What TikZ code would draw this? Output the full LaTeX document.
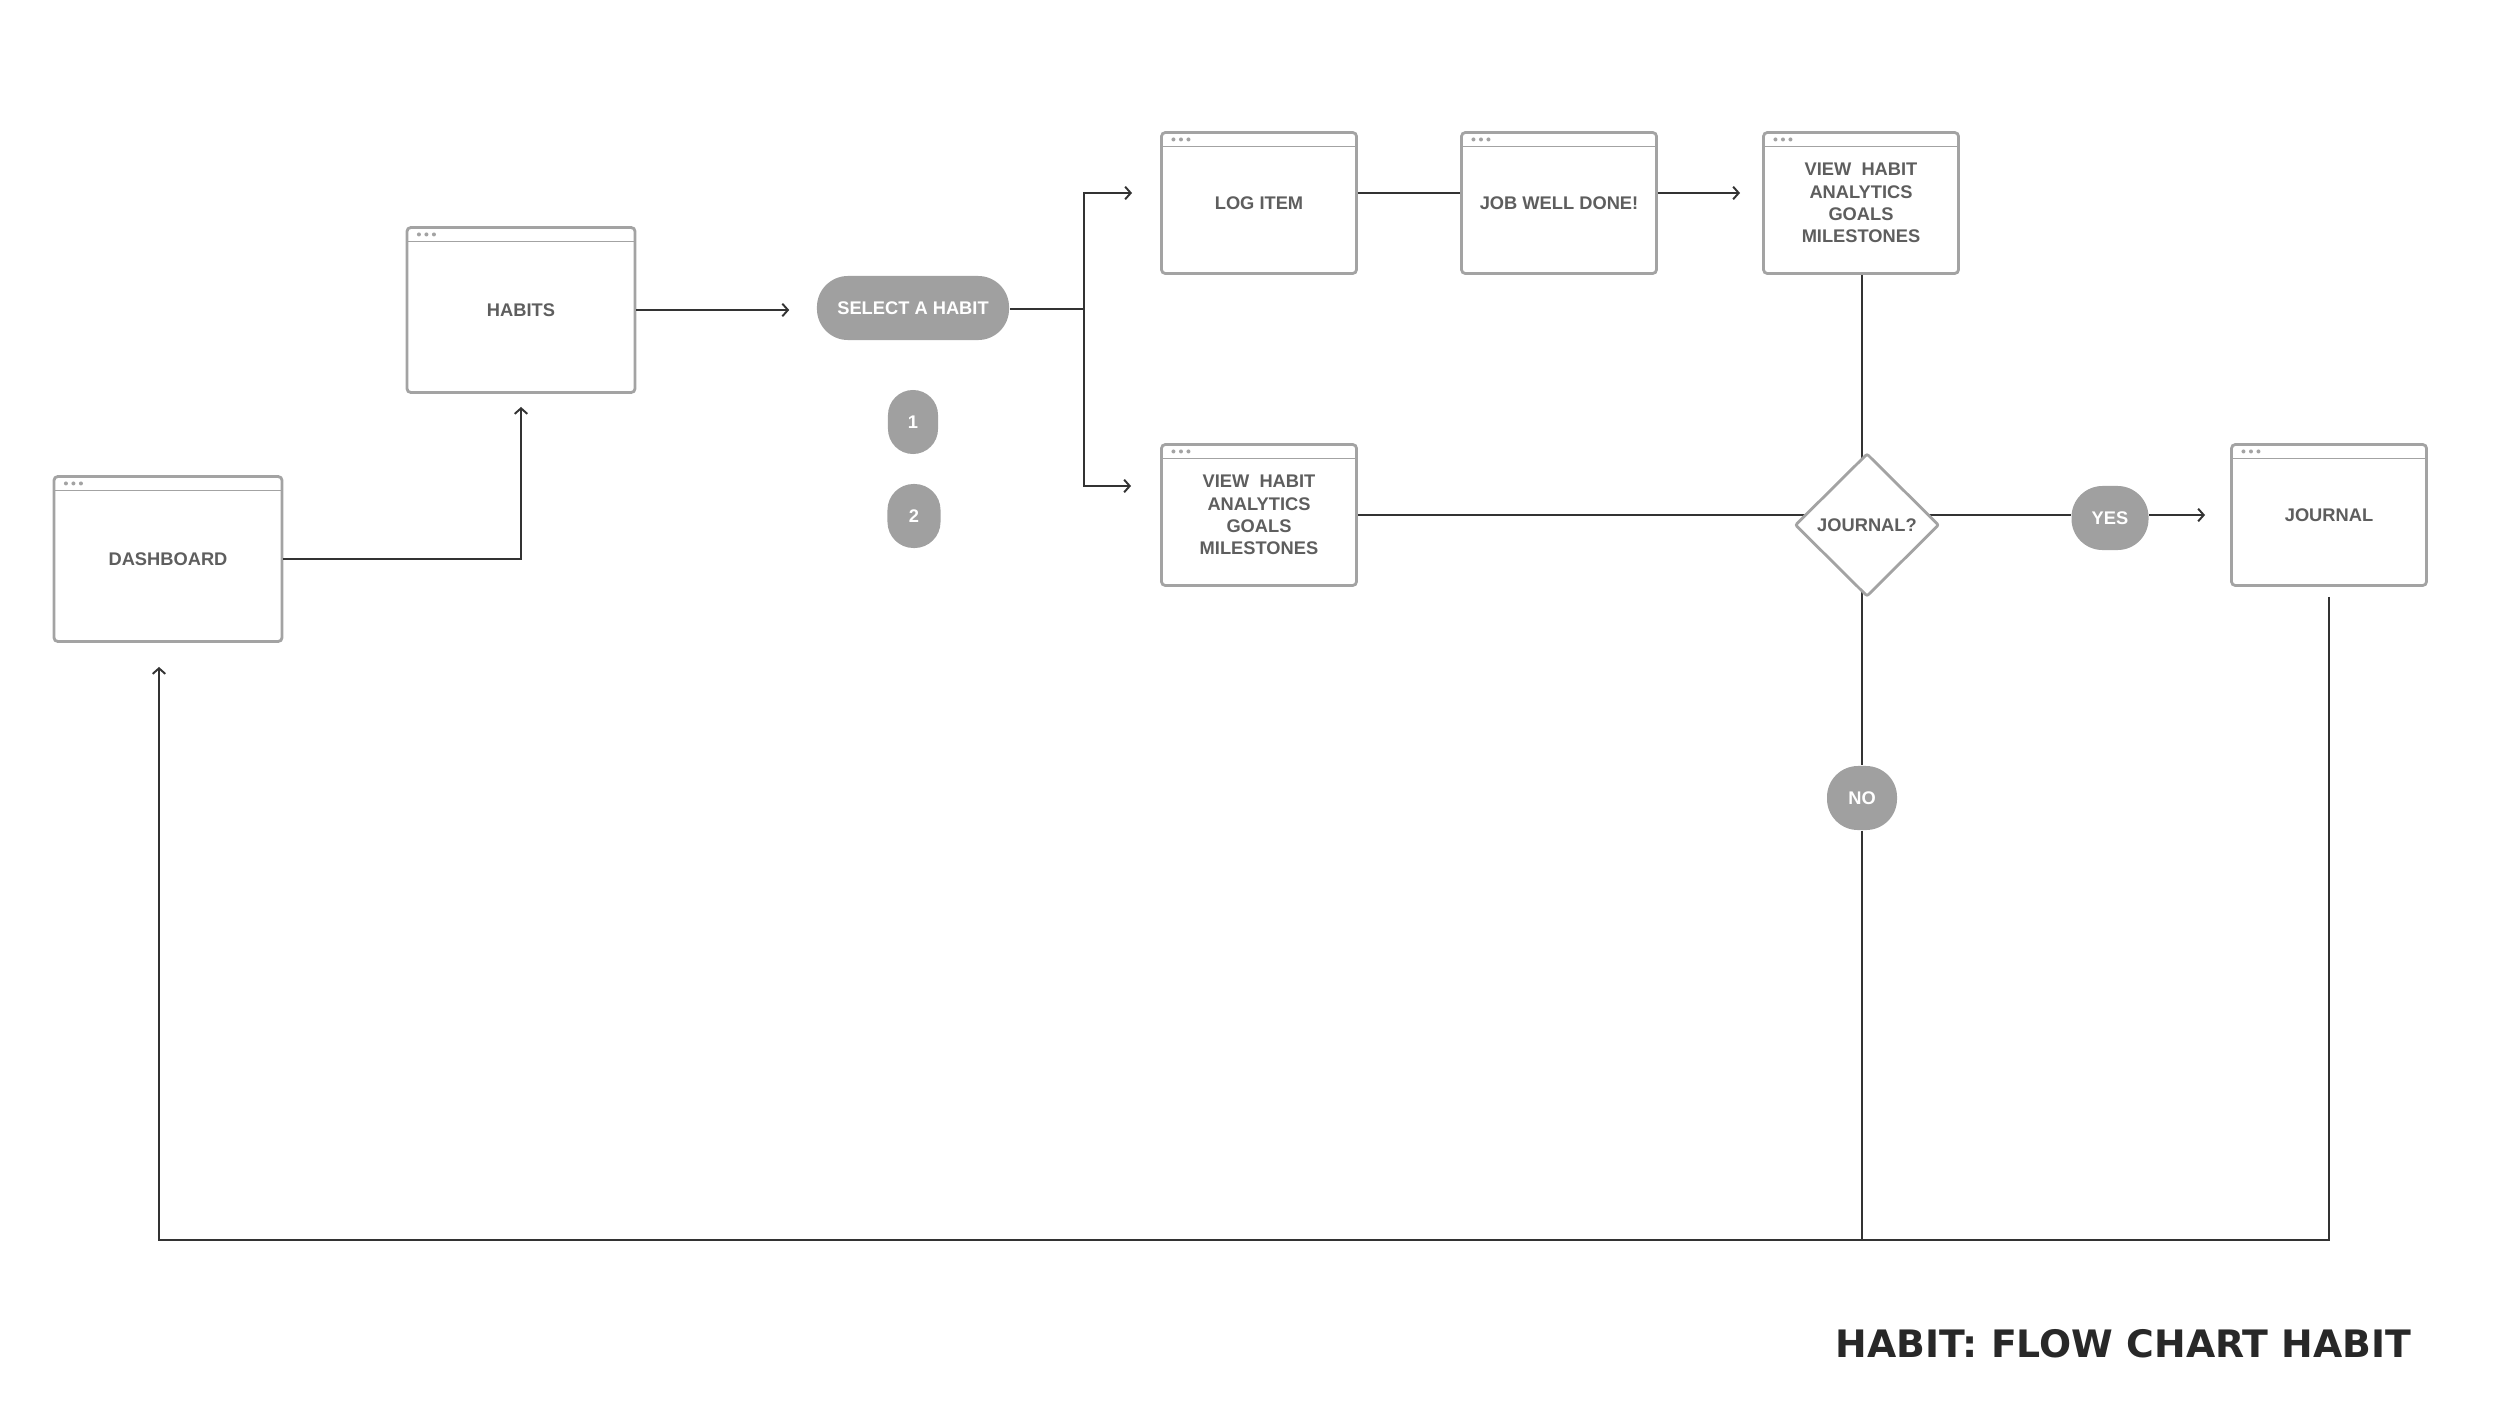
\documentclass[tikz,border=0pt]{standalone}
\usepackage{fontspec}
\setmainfont{Liberation Sans}
\newfontfamily\titlefont{DejaVu Sans}
\usetikzlibrary{arrows.meta,positioning,shapes.geometric,backgrounds}
\definecolor{framegray}{HTML}{A3A3A3}
\definecolor{labelgray}{HTML}{5E5E5E}
\definecolor{pillgray}{HTML}{A0A0A0}
\definecolor{linedark}{HTML}{333333}
\definecolor{titleblack}{HTML}{282828}

\begin{document}
\begin{tikzpicture}[x=0.01cm,y=-0.01cm,
        screen/.style={draw=framegray,line width=0.8pt,rounded corners=0.04cm,fill=white,
                    minimum width=1.95cm,minimum height=1.41cm,inner sep=0pt,align=center,
                    text=labelgray,font=\fontsize{5.2}{6.35}\selectfont\bfseries,
                    path picture={
                      \draw[framegray,line width=0.45pt]
                        ([yshift=-0.14cm]path picture bounding box.north west) --
                        ([yshift=-0.14cm]path picture bounding box.north east);
                      \foreach \dx in {0.12,0.195,0.27}
                        \fill[framegray] ([xshift=\dx cm,yshift=-0.07cm]path picture bounding box.north west)
                          circle[radius=0.02cm];}},
        widescreen/.style={screen,minimum width=2.28cm,minimum height=1.65cm},
        pill/.style={fill=pillgray,text=white,rounded corners=0.31cm,minimum height=0.64cm,
                    inner sep=0pt,font=\fontsize{5.2}{6.35}\selectfont\bfseries},
        decision/.style={diamond,draw=framegray,line width=0.8pt,fill=white,rounded corners=0.02cm,
                    minimum width=1.44cm,minimum height=1.43cm,inner sep=0pt,
                    text=labelgray,font=\fontsize{5.2}{6.35}\selectfont\bfseries},
        link/.style={linedark,line width=0.55pt},
        arr/.style={link,-{Straight Barb[length=1.6pt,width=3.6pt]}}]
        \useasboundingbox (0,0) rectangle (2500,1403);
        % screens
        \node[widescreen] (dash) at (168,559) {DASHBOARD};
        \node[widescreen] (habits) at (521,310) {HABITS};
        \node[screen] (log) at (1259,203) {LOG ITEM};
        \node[screen] (job) at (1559,203) {JOB WELL DONE!};
        \node[screen] (stats) at (1861,203) {VIEW\ \ HABIT\\ANALYTICS\\GOALS\\MILESTONES};
        \node[screen] (statsb) at (1259,515) {VIEW\ \ HABIT\\ANALYTICS\\GOALS\\MILESTONES};
        \node[screen] (journal) at (2329,515) {JOURNAL};
        % pills
        \node[pill,minimum width=1.92cm] (select) at (913,308) {SELECT A HABIT};
        \node[pill,minimum width=0.5cm,rounded corners=0.25cm] (one) at (913,422) {1};
        \node[pill,minimum width=0.53cm,rounded corners=0.26cm] (two) at (914,516) {2};
        \node[decision] (ask) at (1867,525) {JOURNAL?};
        \node[pill,minimum width=0.77cm] (yes) at (2110,518) {YES};
        \node[pill,minimum width=0.7cm] (no) at (1862,798) {NO};
        \node[anchor=base east,inner sep=0pt,text=titleblack,
              font=\titlefont\bfseries\fontsize{10.75}{12}\selectfont] (title) at (2412,1357)
              {HABIT: FLOW CHART HABIT};
        % connectors
        \coordinate (fork) at (1084,309);
        \coordinate (cross) at (1862,515);
        \coordinate (loop) at (159,1240);
        \draw[arr,shorten >=0.13cm] (dash.east) -| (habits.south);
        \draw[arr,shorten >=0.27cm] (habits.east) -- (habits.east -| select.west);
        \draw[arr,shorten >=0.28cm] (fork) |- ([yshift=0.1cm]log.west);
        \draw[arr,shorten >=0.29cm] (fork) |- ([yshift=0.29cm]statsb.west);
        \draw[link] ([yshift=0.1cm]log.east) -- ([yshift=0.1cm]job.west);
        \draw[arr,shorten >=0.22cm] ([yshift=0.1cm]job.east) -- ([yshift=0.1cm]stats.west);
        \draw[arr,shorten >=0.25cm] (yes.east |- cross) -- (journal.west |- cross);
        \draw[arr,shorten <=0.1cm,shorten >=0.24cm] (journal.south) |- (loop) -- (loop |- dash.south);
        \begin{scope}[on background layer]
          \draw[link] (select.east |- fork) -- (fork);
          \draw[link] (stats.south -| cross) -- (cross) -- (cross |- no.north);
          \draw[link] (statsb.east |- cross) -- (cross) -- (yes.west |- cross);
          \draw[link] (no.south -| cross) -- (cross |- loop);
        \end{scope}
\end{tikzpicture}
\end{document}
